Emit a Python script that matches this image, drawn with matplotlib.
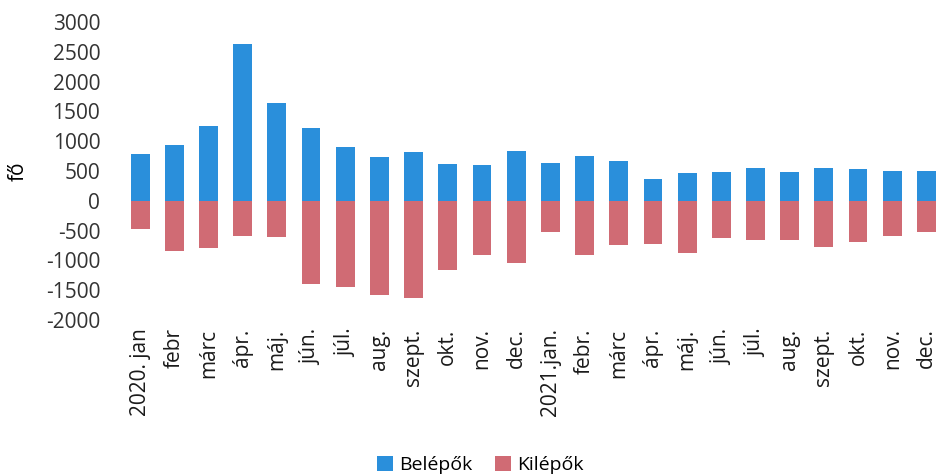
import matplotlib
matplotlib.use("Agg")
import matplotlib.pyplot as plt
import numpy as np

plt.rcParams['font.family'] = ['Open Sans', 'DejaVu Sans']
plt.rcParams['axes.unicode_minus'] = False

honapok = ['2020. jan', 'febr', 'márc', 'ápr.', 'máj.', 'jún.', 'júl.', 'aug.',
           'szept.', 'okt.', 'nov.', 'dec.', '2021.jan.', 'febr.', 'márc', 'ápr.',
           'máj.', 'jún.', 'júl.', 'aug.', 'szept.', 'okt.', 'nov.', 'dec.']
belepok = [790, 940, 1260, 2630, 1640, 1220, 910, 740, 820, 620, 600, 840,
           630, 750, 670, 370, 470, 490, 550, 490, 550, 530, 500, 500]
kilepok = [-470, -840, -790, -590, -600, -1390, -1440, -1580, -1630, -1160, -910, -1040,
           -530, -900, -740, -730, -870, -620, -650, -650, -780, -690, -590, -530]

kek = '#2a8fdb'
piros = '#d06b74'

fig = plt.figure(figsize=(9.42, 4.75), dpi=100)
ax = fig.add_axes([0.127, 0.326, 0.871, 0.628])
x = np.arange(len(honapok))
ax.bar(x, belepok, width=0.55, color=kek, label='Belépők')
ax.bar(x, kilepok, width=0.55, color=piros, label='Kilépők')

ax.set_ylim(-2000, 3000)
ax.set_xlim(-0.6, 23.4)
ax.set_yticks(range(-2000, 3001, 500))
ax.set_xticks(x)
ax.set_xticklabels(honapok, rotation=90, fontsize=15, color='#1a1a1a')
ax.tick_params(axis='y', labelsize=15, labelcolor='#333333', length=0, pad=14)
ax.tick_params(axis='x', length=0, pad=6)
for s in ax.spines.values():
    s.set_visible(False)
ax.set_ylabel('fő', fontsize=15, labelpad=12)

fig.legend(loc='lower center', bbox_to_anchor=(0.51, -0.035), ncol=2, frameon=False,
           fontsize=14, handlelength=0.8, handleheight=0.8, columnspacing=1.2,
           handletextpad=0.3)

fig.savefig('out.png', dpi=100)
